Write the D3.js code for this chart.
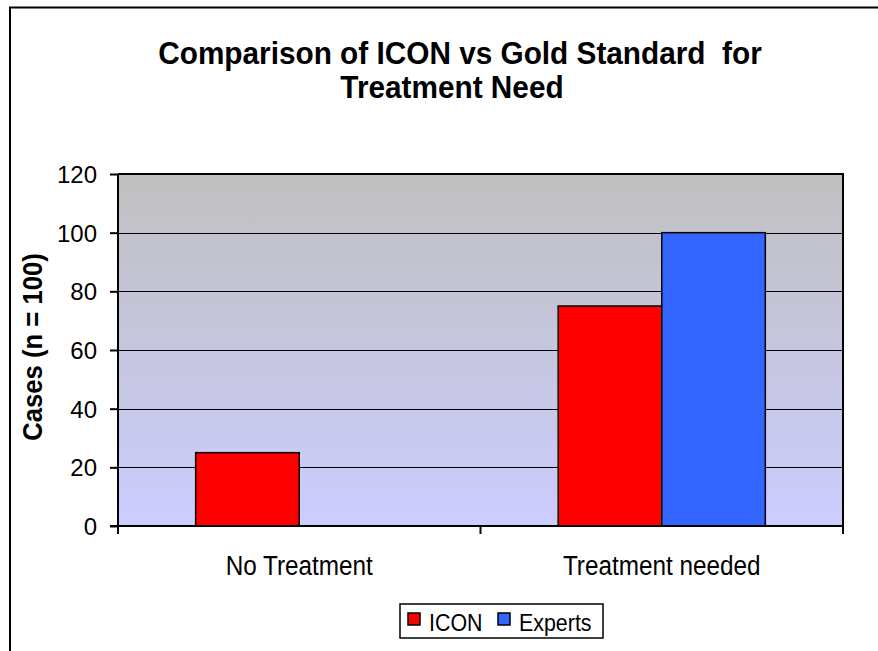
<!DOCTYPE html>
<html><head><meta charset="utf-8">
<script src="https://cdn.jsdelivr.net/npm/d3@7"></script>
<style>html,body{margin:0;padding:0;background:#fff;}svg{display:block;font-family:"Liberation Sans",Arial,sans-serif;}</style>
</head><body>
<script>
const categories = ["No Treatment", "Treatment needed"];
const seriesNames = ["ICON", "Experts"];
const iconValues = [25, 75];
const expertValues = [0, 100];
const yTicks = [0, 20, 40, 60, 80, 100, 120];
const colors = ["#FF0000", "#3366FF"];

const W = 878, H = 651;
const svg = d3.select("body").append("svg").attr("width", W).attr("height", H);

// squeeze text horizontally (reference glyphs are taller than wide)
function squeeze(sel, k) {
  sel.each(function () {
    const n = this.getComputedTextLength();
    d3.select(this).attr("textLength", n * k).attr("lengthAdjust", "spacingAndGlyphs");
  });
}

// outer chart border
svg.append("rect").attr("x", 10).attr("y", 7.5).attr("width", 900).attr("height", 700)
  .attr("fill", "#fff").attr("stroke", "#000").attr("stroke-width", 2);

const L = 118, R = 843, T = 174, B = 526;
const x = d3.scaleBand().domain(categories).range([L, R]);
const xs = d3.scaleBand().domain(seriesNames).range([0, x.bandwidth()]).paddingOuter(0.75);
const y = d3.scaleLinear().domain([0, 120]).range([B, T]);

const defs = svg.append("defs");
const grad = defs.append("linearGradient").attr("id", "bg").attr("x1", 0).attr("y1", 0).attr("x2", 0).attr("y2", 1);
grad.append("stop").attr("offset", "0%").attr("stop-color", "#C0C0C0");
grad.append("stop").attr("offset", "100%").attr("stop-color", "#CCCCFF");

svg.append("rect").attr("x", L).attr("y", T).attr("width", R - L).attr("height", B - T).attr("fill", "url(#bg)");

// gridlines
svg.append("g").selectAll("line").data(yTicks.filter(d => d > 0 && d < 120)).join("line")
  .attr("x1", L).attr("x2", R).attr("y1", d => Math.round(y(d)) + 0.5).attr("y2", d => Math.round(y(d)) + 0.5)
  .attr("stroke", "#000").attr("stroke-width", 1);

// bars
const data = categories.map((c, i) => ({ c, vals: [iconValues[i], expertValues[i]] }));
const g = svg.append("g");
data.forEach(d => {
  d.vals.forEach((v, j) => {
    if (v <= 0) return;
    g.append("rect")
      .attr("x", x(d.c) + xs(seriesNames[j]))
      .attr("y", y(v))
      .attr("width", xs.bandwidth())
      .attr("height", y(0) - y(v))
      .attr("fill", colors[j]).attr("stroke", "#000").attr("stroke-width", 1.5);
  });
});

// plot border top/right
svg.append("path").attr("d", `M${L},${T}H${R}V${B}`).attr("fill", "none").attr("stroke", "#000").attr("stroke-width", 2);

// y axis
const yAxis = d3.axisLeft(y).tickValues(yTicks).tickSize(8).tickPadding(13).tickFormat(d3.format("d"));
const ya = svg.append("g").attr("transform", `translate(${L},0)`).call(yAxis);
ya.select(".domain").attr("stroke-width", 2).attr("d", `M0,${T}V${B + 8}`);
ya.selectAll(".tick line").attr("stroke-width", 2);
ya.selectAll("text").attr("font-size", 24).attr("dy", "0.36em").attr("fill", "#000")
  .attr("font-family", "Liberation Sans, Arial, sans-serif");

// x axis
const xAxis = d3.axisBottom(x).tickSize(0).tickPadding(30);
const xa = svg.append("g").attr("transform", `translate(0,${B})`).call(xAxis);
xa.select(".domain").attr("stroke-width", 2).attr("d", `M${L - 8},0H${R}`);
xa.selectAll("text").attr("font-size", 27).attr("dy", "0.71em").attr("fill", "#000")
  .attr("font-family", "Liberation Sans, Arial, sans-serif").call(squeeze, 0.9);
const bounds = [L, L + x.bandwidth(), R];
xa.selectAll(".bt").data(bounds).join("line").attr("class", "bt")
  .attr("x1", d => d).attr("x2", d => d).attr("y1", 0).attr("y2", 8).attr("stroke", "#000").attr("stroke-width", 2);

// title
const title = svg.append("text").attr("text-anchor", "middle").attr("font-weight", "bold").attr("font-size", 31)
  .style("white-space", "pre").attr("fill", "#000");
title.append("tspan").attr("x", 460).attr("y", 64).text("Comparison of ICON vs Gold Standard  for");
title.append("tspan").attr("x", 452).attr("y", 98).text("Treatment Need");
title.selectAll("tspan").each(function () {
  const n = this.getComputedTextLength();
  d3.select(this).attr("textLength", n * 0.96).attr("lengthAdjust", "spacingAndGlyphs");
});

// y label
svg.append("text").attr("transform", "translate(42,347) rotate(-90)").attr("text-anchor", "middle")
  .attr("font-weight", "bold").attr("font-size", 27).attr("fill", "#000").text("Cases (n = 100)")
  .call(squeeze, 0.95);

// legend
const lg = svg.append("g");
lg.append("rect").attr("x", 400).attr("y", 604).attr("width", 203).attr("height", 34)
  .attr("fill", "#fff").attr("stroke", "#000").attr("stroke-width", 1.5);
const legX = [408, 498];
seriesNames.forEach((s, i) => {
  lg.append("rect").attr("x", legX[i]).attr("y", 613).attr("width", 12).attr("height", 12)
    .attr("fill", colors[i]).attr("stroke", "#000").attr("stroke-width", 1.5);
  lg.append("text").attr("x", legX[i] + 21).attr("y", 631).attr("font-size", 23).attr("fill", "#000").text(s)
    .call(squeeze, 0.93);
});
</script>
</body></html>
